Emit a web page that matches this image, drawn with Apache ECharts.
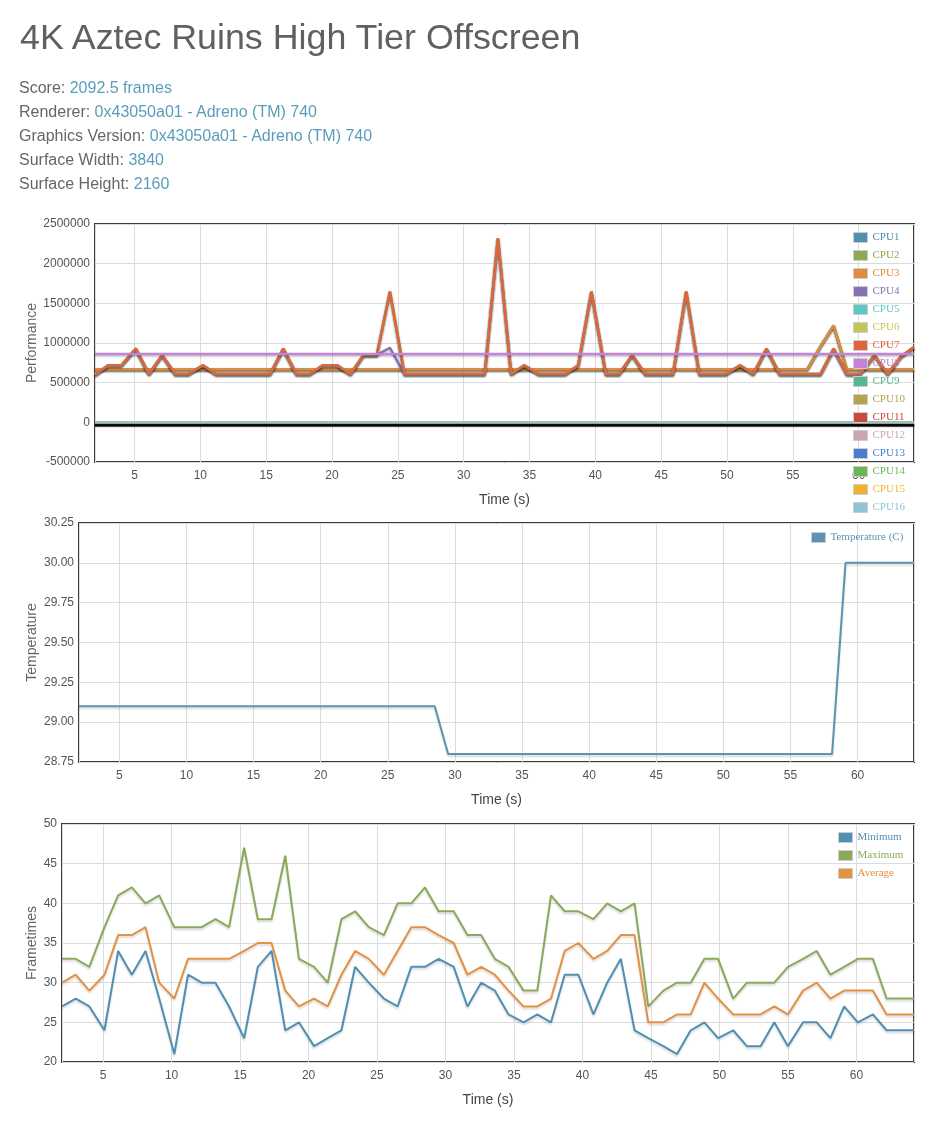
<!DOCTYPE html>
<html>
<head>
<meta charset="utf-8">
<title>4K Aztec Ruins High Tier Offscreen</title>
<script src="https://cdn.jsdelivr.net/npm/echarts@6/dist/echarts.min.js"></script>
<style>
	html, body { margin: 0; padding: 0; background: #fff; }
	body { width: 934px; height: 1124px; position: relative; overflow: hidden; font-family: 'Liberation Sans', Arial, sans-serif; }
	#chart { position: absolute; left: 0; top: 0; width: 934px; height: 1124px; }
	.header { position: absolute; left: 0; top: 0; z-index: 2; pointer-events: none; }
	.header h1 { position: absolute; left: 20px; top: 17px; margin: 0; font-size: 35.8px; line-height: 40px; font-weight: normal; color: #606060; white-space: nowrap; }
	.header .info { position: absolute; left: 19px; top: 76px; font-size: 16px; line-height: 24px; color: #666; white-space: nowrap; }
	.header .info span { color: #5a9dbb; }
</style>
</head>
<body>
<div id="chart"></div>
<div class="header">
	<h1>4K Aztec Ruins High Tier Offscreen</h1>
	<div class="info">
		Score: <span>2092.5 frames</span><br>
		Renderer: <span>0x43050a01 - Adreno (TM) 740</span><br>
		Graphics Version: <span>0x43050a01 - Adreno (TM) 740</span><br>
		Surface Width: <span>3840</span><br>
		Surface Height: <span>2160</span>
	</div>
</div>
<script>
// 采样时间 (s)
var times = [
	2.0, 3.0, 4.0, 5.1, 6.1, 7.1, 8.1, 9.1, 10.2, 11.2,
	12.2, 13.2, 14.2, 15.3, 16.3, 17.3, 18.3, 19.3, 20.4, 21.4,
	22.4, 23.4, 24.4, 25.5, 26.5, 27.5, 28.5, 29.5, 30.6, 31.6,
	32.6, 33.6, 34.6, 35.7, 36.7, 37.7, 38.7, 39.7, 40.8, 41.8,
	42.8, 43.8, 44.8, 45.9, 46.9, 47.9, 48.9, 49.9, 51.0, 52.0,
	53.0, 54.0, 55.0, 56.1, 57.1, 58.1, 59.1, 60.1, 61.2, 62.2,
	63.2, 64.2
]
// CPU1-CPU3
var littleCorePerf = [
	670000, 670000, 670000, 670000, 670000, 670000, 670000, 670000, 670000, 670000,
	670000, 670000, 670000, 670000, 670000, 670000, 670000, 670000, 670000, 670000,
	670000, 670000, 670000, 670000, 670000, 670000, 670000, 670000, 670000, 670000,
	670000, 670000, 670000, 670000, 670000, 670000, 670000, 670000, 670000, 670000,
	670000, 670000, 670000, 670000, 670000, 670000, 670000, 670000, 670000, 670000,
	670000, 670000, 670000, 670000, 960000, 1220000, 670000, 670000, 670000, 670000,
	670000, 670000
]
// CPU4
var cpu4Perf = [
	600000, 720000, 720000, 930000, 610000, 850000, 610000, 610000, 720000, 610000,
	610000, 610000, 610000, 610000, 930000, 610000, 610000, 720000, 720000, 610000,
	850000, 850000, 940000, 610000, 610000, 610000, 610000, 610000, 610000, 610000,
	2320000, 610000, 720000, 610000, 610000, 610000, 720000, 1650000, 610000, 610000,
	850000, 610000, 610000, 610000, 1650000, 610000, 610000, 610000, 720000, 610000,
	930000, 610000, 610000, 610000, 610000, 930000, 610000, 610000, 850000, 610000,
	830000, 950000
]
// CPU5-CPU7
var bigCorePerf = [
	600000, 720000, 720000, 930000, 610000, 850000, 610000, 610000, 720000, 610000,
	610000, 610000, 610000, 610000, 930000, 610000, 610000, 720000, 720000, 610000,
	850000, 850000, 1650000, 610000, 610000, 610000, 610000, 610000, 610000, 610000,
	2320000, 610000, 720000, 610000, 610000, 610000, 720000, 1650000, 610000, 610000,
	850000, 610000, 610000, 610000, 1650000, 610000, 610000, 610000, 720000, 610000,
	930000, 610000, 610000, 610000, 610000, 930000, 610000, 610000, 850000, 610000,
	830000, 950000
]
// CPU8
var primeCorePerf = [
	860000, 860000, 860000, 860000, 860000, 860000, 860000, 860000, 860000, 860000,
	860000, 860000, 860000, 860000, 860000, 860000, 860000, 860000, 860000, 860000,
	860000, 860000, 860000, 860000, 860000, 860000, 860000, 860000, 860000, 860000,
	860000, 860000, 860000, 860000, 860000, 860000, 860000, 860000, 860000, 860000,
	860000, 860000, 860000, 860000, 860000, 860000, 860000, 860000, 860000, 860000,
	860000, 860000, 860000, 860000, 860000, 860000, 860000, 860000, 860000, 860000,
	860000, 860000
]
// CPU9-CPU16
var offlinePerf = [
	0, 0, 0, 0, 0, 0, 0, 0, 0, 0,
	0, 0, 0, 0, 0, 0, 0, 0, 0, 0,
	0, 0, 0, 0, 0, 0, 0, 0, 0, 0,
	0, 0, 0, 0, 0, 0, 0, 0, 0, 0,
	0, 0, 0, 0, 0, 0, 0, 0, 0, 0,
	0, 0, 0, 0, 0, 0, 0, 0, 0, 0,
	0, 0
]
var temperature = [
	29.1, 29.1, 29.1, 29.1, 29.1, 29.1, 29.1, 29.1, 29.1, 29.1,
	29.1, 29.1, 29.1, 29.1, 29.1, 29.1, 29.1, 29.1, 29.1, 29.1,
	29.1, 29.1, 29.1, 29.1, 29.1, 29.1, 29.1, 28.8, 28.8, 28.8,
	28.8, 28.8, 28.8, 28.8, 28.8, 28.8, 28.8, 28.8, 28.8, 28.8,
	28.8, 28.8, 28.8, 28.8, 28.8, 28.8, 28.8, 28.8, 28.8, 28.8,
	28.8, 28.8, 28.8, 28.8, 28.8, 28.8, 30.0, 30.0, 30.0, 30.0,
	30.0, 30.0
]
var frameMin = [
	27, 28, 27, 24, 34, 31, 34, 28, 21, 31,
	30, 30, 27, 23, 32, 34, 24, 25, 22, 23,
	24, 32, 30, 28, 27, 32, 32, 33, 32, 27,
	30, 29, 26, 25, 26, 25, 31, 31, 26, 30,
	33, 24, 23, 22, 21, 24, 25, 23, 24, 22,
	22, 25, 22, 25, 25, 23, 27, 25, 26, 24,
	24, 24
]
var frameMax = [
	33, 33, 32, 37, 41, 42, 40, 41, 37, 37,
	37, 38, 37, 47, 38, 38, 46, 33, 32, 30,
	38, 39, 37, 36, 40, 40, 42, 39, 39, 36,
	36, 33, 32, 29, 29, 41, 39, 39, 38, 40,
	39, 40, 27, 29, 30, 30, 33, 33, 28, 30,
	30, 30, 32, 33, 34, 31, 32, 33, 33, 28,
	28, 28
]
var frameAvg = [
	30, 31, 29, 31, 36, 36, 37, 30, 28, 33,
	33, 33, 33, 34, 35, 35, 29, 27, 28, 27,
	31, 34, 33, 31, 34, 37, 37, 36, 35, 31,
	32, 31, 29, 27, 27, 28, 34, 35, 33, 34,
	36, 36, 25, 25, 26, 26, 30, 28, 26, 26,
	26, 27, 26, 29, 30, 28, 29, 29, 29, 26,
	26, 26
]
var cpuNames = ['CPU1', 'CPU2', 'CPU3', 'CPU4', 'CPU5', 'CPU6', 'CPU7', 'CPU8',
	'CPU9', 'CPU10', 'CPU11', 'CPU12', 'CPU13', 'CPU14', 'CPU15', 'CPU16']
var cpuColors = ['#4f8fb0', '#8fa855', '#e08c3c', '#8671b5', '#5cc8c4', '#c4c45a', '#e0643c', '#c184d8',
	'#55b895', '#b5a34f', '#c84b40', '#c8a4b4', '#4a7fcf', '#6bb851', '#f2b32b', '#8fc4d6']
var cpuData = [littleCorePerf, littleCorePerf, littleCorePerf, cpu4Perf, bigCorePerf, bigCorePerf, bigCorePerf, primeCorePerf,
	offlinePerf, offlinePerf, offlinePerf, offlinePerf, offlinePerf, offlinePerf, offlinePerf, offlinePerf]
var frameNames = ['Minimum', 'Maximum', 'Average']
var frameColors = ['#4f8fb3', '#8aa95a', '#e39143']
var tempColor = '#5b93b0'

var font = 'Liberation Sans'
var serif = 'Liberation Serif'

var chart = echarts.init(document.getElementById('chart'))
chart.setOption(getOption())

function pairs(values) {
	return times.map(function (t, i) {
		return [t, values[i]]
	})
}

function timeAxis(gridIndex) {
	return {
		type: 'value',
		gridIndex: gridIndex,
		min: 2,
		max: 64.2,
		minInterval: 5,
		maxInterval: 5,
		name: 'Time (s)',
		nameLocation: 'middle',
		nameGap: 31,
		nameMoveOverlap: false,
		nameTextStyle: { color: '#444', fontSize: 14, fontFamily: font },
		axisLine: { show: false },
		axisTick: { show: false },
		axisLabel: { color: '#545454', fontSize: 12, fontFamily: font, margin: 8, showMinLabel: false, showMaxLabel: false },
		splitLine: { lineStyle: { color: '#dcdcdc' } }
	}
}

function valueAxis(gridIndex, name, gap, min, max, interval, formatter) {
	return {
		type: 'value',
		gridIndex: gridIndex,
		min: min,
		max: max,
		interval: interval,
		name: name,
		nameLocation: 'middle',
		nameGap: gap,
		nameMoveOverlap: false,
		nameTextStyle: { color: '#666', fontSize: 14, fontFamily: font },
		axisLine: { show: false },
		axisTick: { show: false },
		axisLabel: { color: '#545454', fontSize: 12, fontFamily: font, margin: 5, formatter: formatter },
		splitLine: { lineStyle: { color: '#dcdcdc' } }
	}
}

function legendOf(names, colors, left, top) {
	return {
		orient: 'vertical',
		left: left,
		top: top,
		padding: 0,
		itemWidth: 14,
		itemHeight: 10,
		itemGap: 5,
		icon: 'rect',
		selectedMode: false,
		itemStyle: { borderColor: '#ccc', borderWidth: 1 },
		textStyle: { fontFamily: serif, fontSize: 11, lineHeight: 13 },
		data: names.map(function (n, i) {
			return { name: n, textStyle: { color: colors[i] } }
		})
	}
}

function getOption() {
	var series = []
	cpuNames.forEach(function (name, i) {
		var idle = cpuData[i] === offlinePerf
		series.push({
			name: name,
			type: 'line',
			xAxisIndex: 0,
			yAxisIndex: 0,
			data: pairs(cpuData[i]),
			showSymbol: false,
			color: cpuColors[i],
			lineStyle: idle
				? { width: 2, color: cpuColors[i], shadowColor: 'rgba(0,0,0,0.45)', shadowOffsetY: 3, shadowBlur: 1 }
				: { width: 2.5, color: cpuColors[i], shadowColor: 'rgba(0,0,0,0.25)', shadowOffsetY: 1.5, shadowBlur: 2 }
		})
	})
	series.push({
		name: 'Temperature (C)',
		type: 'line',
		xAxisIndex: 1,
		yAxisIndex: 1,
		data: pairs(temperature),
		showSymbol: false,
		color: tempColor,
		lineStyle: { width: 2, color: tempColor, shadowColor: 'rgba(0,0,0,0.15)', shadowOffsetY: 2, shadowBlur: 2 }
	})
	;[frameMin, frameMax, frameAvg].forEach(function (values, i) {
		series.push({
			name: frameNames[i],
			type: 'line',
			xAxisIndex: 2,
			yAxisIndex: 2,
			data: pairs(values),
			showSymbol: false,
			color: frameColors[i],
			lineStyle: { width: 2, color: frameColors[i], shadowColor: 'rgba(0,0,0,0.15)', shadowOffsetY: 2, shadowBlur: 2 }
		})
	})
	return {
		animation: false,
		backgroundColor: '#fff',
		grid: [
			{ left: 95, top: 224, width: 819, height: 238, show: true, borderColor: '#3c3c3c', borderWidth: 2, backgroundColor: 'transparent' },
			{ left: 79, top: 523, width: 835, height: 239, show: true, borderColor: '#3c3c3c', borderWidth: 2, backgroundColor: 'transparent' },
			{ left: 62, top: 824, width: 852, height: 238, show: true, borderColor: '#3c3c3c', borderWidth: 2, backgroundColor: 'transparent' }
		],
		xAxis: [timeAxis(0), timeAxis(1), timeAxis(2)],
		yAxis: [
			valueAxis(0, 'Performance', 56, -500000, 2500000, 500000, function (v) { return String(v) }),
			valueAxis(1, 'Temperature', 40, 28.75, 30.25, 0.25, function (v) { return v.toFixed(2) }),
			valueAxis(2, 'Frametimes', 23, 20, 50, 5, function (v) { return String(v) })
		],
		legend: [
			legendOf(cpuNames, cpuColors, 853, 231),
			legendOf(['Temperature (C)'], [tempColor], 811, 531),
			legendOf(frameNames, frameColors, 838, 831)
		],
		series: series
	}
}
</script>
</body>
</html>
